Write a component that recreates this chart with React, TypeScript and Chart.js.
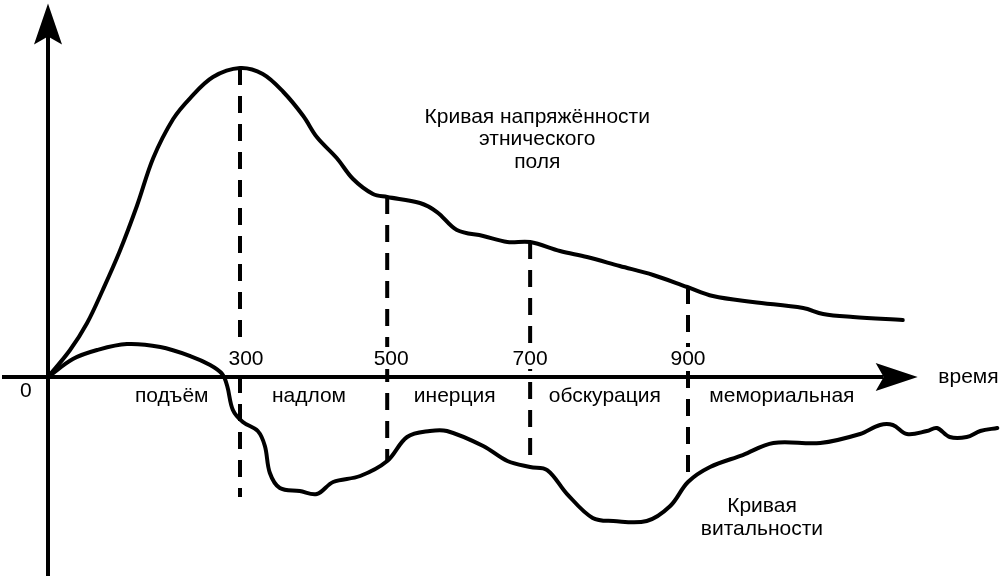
import { useEffect, useRef } from "react"
import { Chart, registerables, type ChartConfiguration, type Plugin } from "chart.js"

Chart.register(...registerables)

// кривая напряжённости этнического поля (время в условных годах, значение в условных единицах)
const fieldTime = [0, 31, 55, 77, 101, 125, 148, 176, 200, 232, 270, 302, 331, 359, 378, 406, 429, 457, 477, 523, 547, 575, 612, 646, 678, 720, 758, 804, 851, 899, 935, 991, 1062, 1090, 1132, 1202]
const fieldValue = [0, 9, 18, 29, 42, 57, 73, 86, 93, 100, 103, 101, 95, 87, 80, 73, 66, 61, 60, 58, 55, 49, 47, 45, 45, 42, 40, 37, 34, 30, 27, 25, 23, 21, 20, 19]

// кривая витальности
const vitalTime = [0, 35, 69, 111, 158, 200, 228, 245, 252, 260, 274, 295, 305, 312, 326, 354, 378, 401, 439, 477, 505, 537, 561, 612, 646, 678, 702, 730, 766, 795, 842, 875, 900, 931, 977, 1020, 1086, 1142, 1170, 1188, 1208, 1236, 1250, 1268, 1292, 1311, 1335]
const vitalValue = [0, 6, 9, 11, 10, 7, 4, 1, -3, -11, -15, -18, -23, -32, -37, -38, -39, -35, -33, -28, -20, -18, -18, -23, -28, -30, -31, -39, -47, -48, -48, -43, -35, -30, -26, -22, -22, -19, -16, -16, -19, -18, -17, -20, -20, -18, -17]

// границы фаз
const boundTime = [270, 477, 678, 900]
const boundLabels = ["300", "500", "700", "900"]
const boundTop = [103, 60, 45, 30]
const boundBottom = [-40, -28, -30, -35]

const phaseNames = ["подъём", "надлом", "инерция", "обскурация", "мемориальная"]

const FONT = '21px "Liberation Sans", Arial, sans-serif'
const INK = "#000"

const schemePlugin: Plugin<"line"> = {
  id: "scheme",
  beforeDatasetsDraw(chart) {
    const { ctx } = chart
    const x = chart.scales.x
    const y = chart.scales.y
    const ox = x.getPixelForValue(0)
    const oy = y.getPixelForValue(0)
    const xTip = x.getPixelForValue(1223)
    const yTip = y.getPixelForValue(124.5)

    ctx.save()
    ctx.strokeStyle = INK
    ctx.fillStyle = INK
    ctx.lineWidth = 4

    // ось времени
    ctx.beginPath()
    ctx.moveTo(2, oy)
    ctx.lineTo(xTip - 34, oy)
    ctx.stroke()
    ctx.beginPath()
    ctx.moveTo(xTip, oy)
    ctx.lineTo(xTip - 42, oy - 14)
    ctx.lineTo(xTip - 34, oy)
    ctx.lineTo(xTip - 42, oy + 14)
    ctx.closePath()
    ctx.fill()

    // вертикальная ось
    ctx.beginPath()
    ctx.moveTo(ox, chart.height)
    ctx.lineTo(ox, yTip + 32)
    ctx.stroke()
    ctx.beginPath()
    ctx.moveTo(ox, yTip)
    ctx.lineTo(ox - 14, yTip + 41)
    ctx.lineTo(ox, yTip + 33)
    ctx.lineTo(ox + 14, yTip + 41)
    ctx.closePath()
    ctx.fill()
    ctx.restore()
  },
  afterDraw(chart) {
    const { ctx } = chart
    const x = chart.scales.x
    const y = chart.scales.y
    const oy = y.getPixelForValue(0)

    const text = (s: string, t: number, dy: number, align: CanvasTextAlign = "center", dx = 0) => {
      ctx.textAlign = align
      ctx.fillText(s, x.getPixelForValue(t) + dx, oy + dy)
    }

    ctx.save()
    ctx.font = FONT
    ctx.textBaseline = "alphabetic"

    // подписи границ фаз на белой подложке, пунктир под ними прерывается
    boundLabels.forEach((s, i) => {
      const dx = i === 0 ? 6 : i === 1 ? 4 : 0
      const w = ctx.measureText(s).width
      const cx = x.getPixelForValue(boundTime[i]) + dx
      ctx.fillStyle = "#fff"
      ctx.fillRect(cx - w / 2 - 2, oy - 30, w + 4, 22)
      ctx.fillStyle = INK
      text(s, boundTime[i], -12, "center", dx)
    })

    ctx.fillStyle = INK
    const phaseX = [174, 367, 572, 783, 1032]
    phaseNames.forEach((s, i) => text(s, phaseX[i], 25))

    text("0", -31, 20)
    text("время", 1252, 6, "left")

    text("Кривая напряжённости", 688, -254)
    text("этнического", 688, -232)
    text("поля", 688, -209)

    text("Кривая", 1004, 135)
    text("витальности", 1004, 158)
    ctx.restore()
  },
}

export default function App() {
  const canvasRef = useRef<HTMLCanvasElement>(null)
  const chartRef = useRef<Chart | null>(null)

  useEffect(() => {
    if (!canvasRef.current) return
    const ctx = canvasRef.current.getContext("2d")
    if (!ctx) return

    if (chartRef.current) chartRef.current.destroy()

    const curve = {
      borderColor: INK,
      borderWidth: 4,
      pointRadius: 0,
      tension: 0.35,
      borderJoinStyle: "round" as const,
      borderCapStyle: "round" as const,
      fill: false,
    }

    const boundDatasets = boundTime.map((t, i) => ({
      data: [
        { x: t, y: boundTop[i] },
        { x: t, y: boundBottom[i] },
      ],
      borderColor: INK,
      borderWidth: 4,
      borderDash: [17, 11],
      pointRadius: 0,
      tension: 0,
      fill: false,
    }))

    const config: ChartConfiguration<"line"> = {
      type: "line",
      data: {
        datasets: [
          { ...curve, data: fieldTime.map((t, i) => ({ x: t, y: fieldValue[i] })) },
          { ...curve, data: vitalTime.map((t, i) => ({ x: t, y: vitalValue[i] })) },
          ...boundDatasets,
        ],
      },
      options: {
        responsive: false,
        animation: false,
        layout: { padding: 0 },
        scales: {
          x: { type: "linear", display: false, min: -67.5, max: 1338.75 },
          y: { type: "linear", display: false, min: -66.33, max: 125.67 },
        },
        plugins: {
          legend: { display: false },
          tooltip: { enabled: false },
        },
      },
      plugins: [schemePlugin],
    }

    chartRef.current = new Chart(ctx, config)

    return () => {
      if (chartRef.current) {
        chartRef.current.destroy()
        chartRef.current = null
      }
    }
  }, [])

  return (
    <div style={{ position: "absolute", left: 0, top: 0, width: 1000, height: 576, background: "#fff" }}>
      <canvas ref={canvasRef} width={1000} height={576} style={{ width: 1000, height: 576 }} />
    </div>
  )
}
